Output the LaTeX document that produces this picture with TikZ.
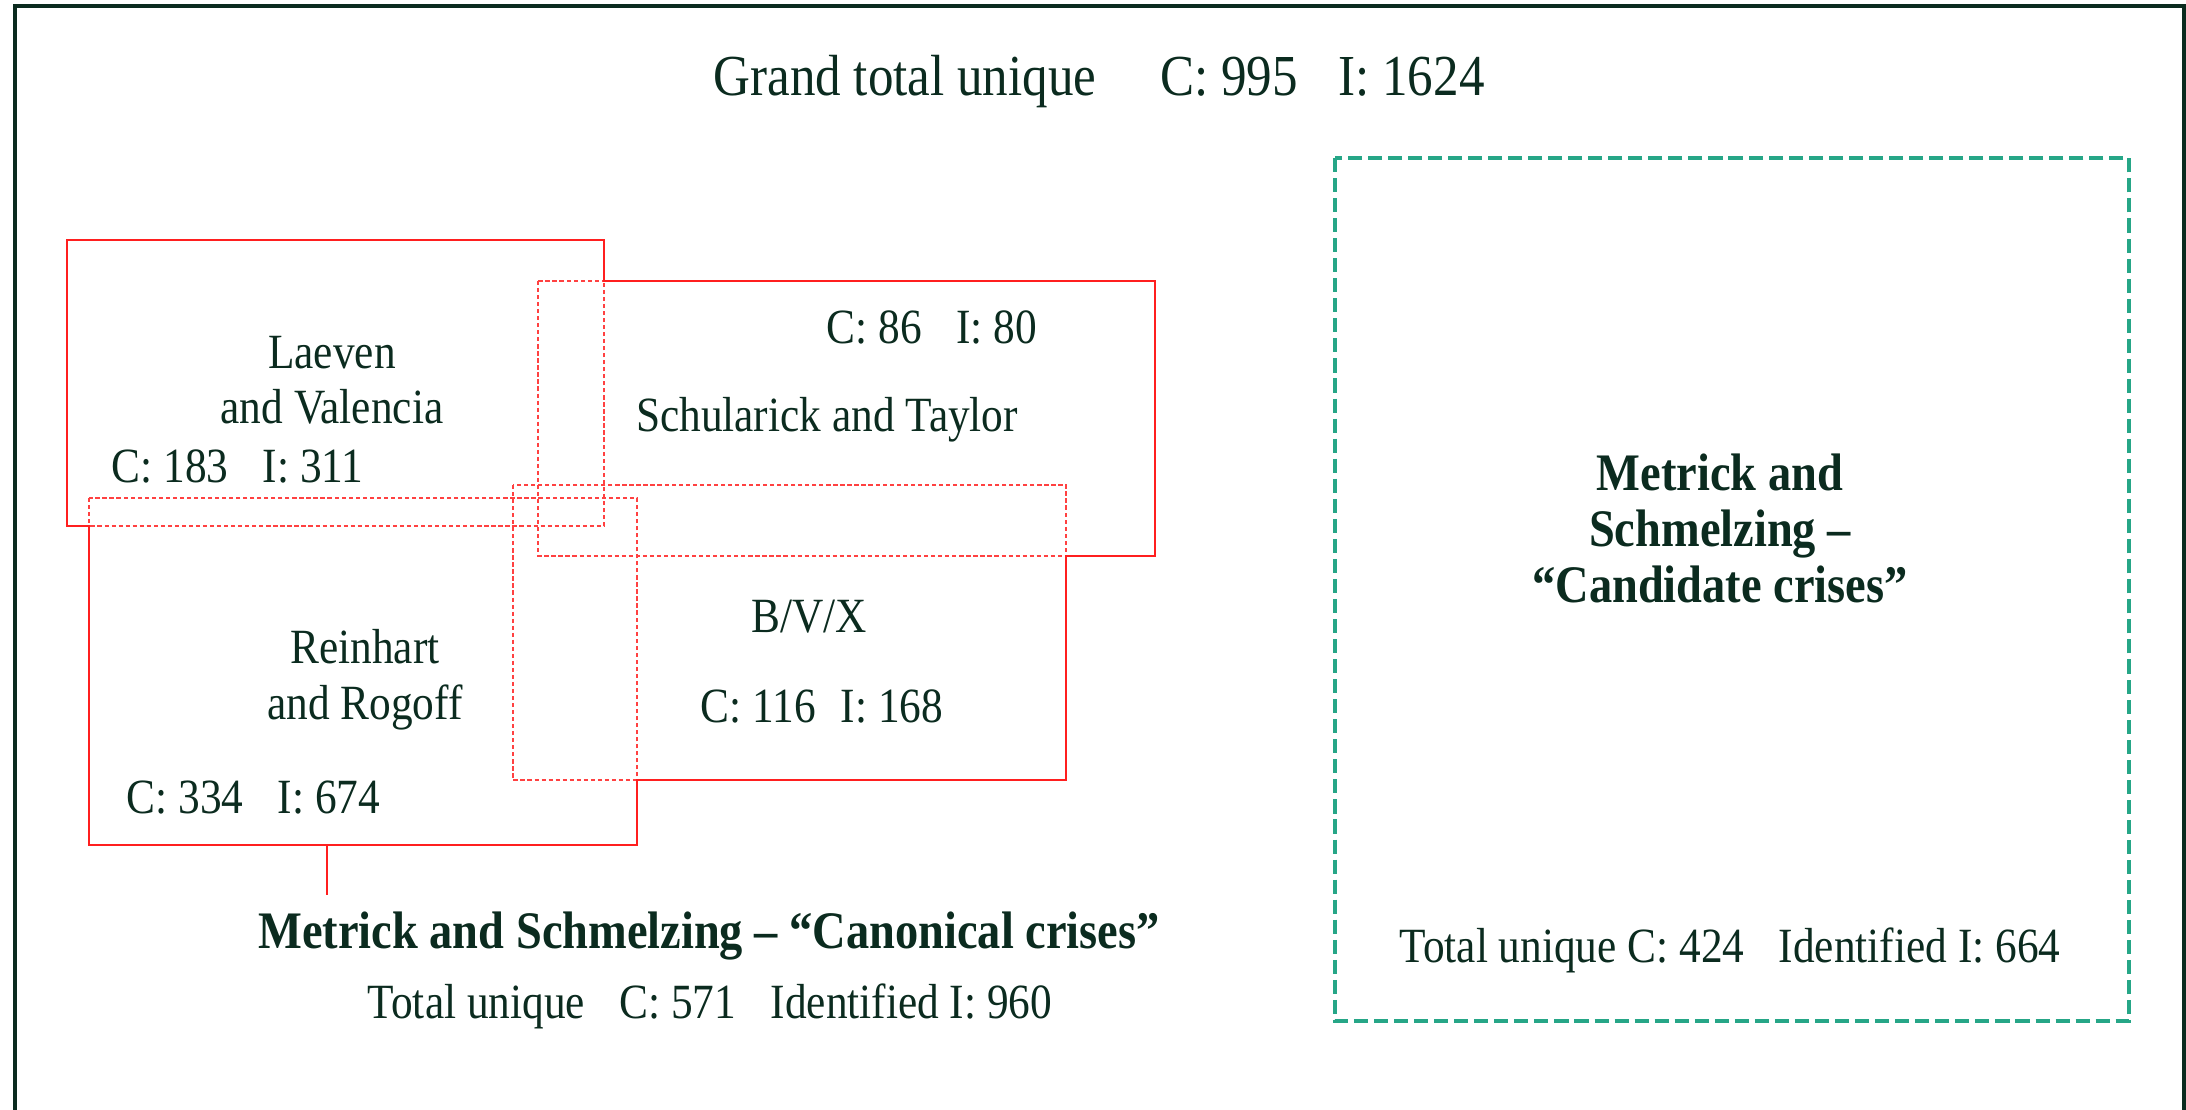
\documentclass[tikz,border=0pt]{standalone}
\usepackage{fontspec}
\setmainfont[FakeStretch=0.88]{Liberation Serif}
\usetikzlibrary{positioning}
\definecolor{inkgreen}{HTML}{0B2B1F}
\definecolor{boxred}{HTML}{FF1F1F}
\definecolor{candteal}{HTML}{26A687}
\newcommand{\gapsp}{\hspace{0.7em}}

\begin{document}
\begin{tikzpicture}[
		x=0.01cm, y=-0.01cm,
		every node/.style={
			text=inkgreen,
			inner sep=0pt,
			anchor=base,
			font=\fontsize{14}{17}\selectfont
		},
		setline/.style={draw=boxred, line width=0.7pt},
		overlapline/.style={draw=boxred!85, line width=0.4pt, dash pattern=on 1.2pt off 0.8pt},
		candbox/.style={draw=candteal, line width=1.15pt, dash pattern=on 4pt off 1.7pt},
		titlebold/.style={font=\fontsize{15}{18}\selectfont\bfseries},
		bigtext/.style={font=\fontsize{16.5}{20}\selectfont}
		]
		
		\useasboundingbox (0,0) rectangle (2186,1110);
		
		%--------------------------------------------------
		% Frame (open at the bottom)
		%--------------------------------------------------
		
		\draw[inkgreen, line width=1.4pt] (15,1110) -- (15,6) -- (2184,6) -- (2184,1110);
		
		\node[bigtext] (grand) at (1099,96) {Grand total unique\hspace{1.1em}C: 995\gapsp I: 1624};
		
		%--------------------------------------------------
		% Canonical crises: four overlapping sets
		%--------------------------------------------------
		
		\coordinate (lv-nw)  at (67,240);
		\coordinate (lv-se)  at (604,526);
		\coordinate (st-nw)  at (538,281);
		\coordinate (st-se)  at (1155,556);
		\coordinate (rr-nw)  at (89,498);
		\coordinate (rr-se)  at (637,845);
		\coordinate (bvx-nw) at (513,485);
		\coordinate (bvx-se) at (1066,780);
		
		\foreach \s in {lv,st,rr,bvx}
		{
			\draw[overlapline] (\s-nw) rectangle (\s-se);
		}
		
		\draw[setline]
		(lv-nw) -| (lv-se |- st-nw) -| (st-se) -| (bvx-se) -| (rr-se)
		-| (rr-nw |- lv-se) -- (lv-se -| lv-nw) -- cycle;
		
		\coordinate (rr-tail)  at (327,845);
		\coordinate (tail-end) at (327,895);
		\draw[setline] (rr-tail) -- (tail-end);
		
		\node (lvname1) at (332,369) {Laeven};
		\node (lvname2) at (332,424) {and Valencia};
		\node[anchor=base west] (lvcount) at (111,482) {C: 183\gapsp I: 311};
		
		\node[anchor=base west] (stcount) at (826,344) {C: 86\gapsp I: 80};
		\node (stname) at (827,432) {Schularick and Taylor};
		
		\node (bvxname) at (809,632) {B/V/X};
		\node (bvxcount) at (822,722) {C: 116\enspace I: 168};
		
		\node (rrname1) at (365,663) {Reinhart};
		\node (rrname2) at (365,719) {and Rogoff};
		\node[anchor=base west] (rrcount) at (126,813) {C: 334\gapsp I: 674};
		
		\node[titlebold] (canon) at (709,948) {Metrick and Schmelzing – “Canonical crises”};
		\node (canontotal) at (710,1018) {Total unique\gapsp C: 571\gapsp Identified I: 960};
		
		%--------------------------------------------------
		% Candidate crises
		%--------------------------------------------------
		
		\coordinate (cand-nw) at (1335,158);
		\coordinate (cand-se) at (2129,1021);
		\draw[candbox] (cand-nw) rectangle (cand-se);
		
		\node[titlebold] (candname1) at (1720,491) {Metrick and};
		\node[titlebold] (candname2) at (1720,547) {Schmelzing –};
		\node[titlebold] (candname3) at (1720,602) {“Candidate crises”};
		\node (candtotal) at (1730,962) {Total unique C: 424\gapsp Identified I: 664};
		
	\end{tikzpicture}
\end{document}
